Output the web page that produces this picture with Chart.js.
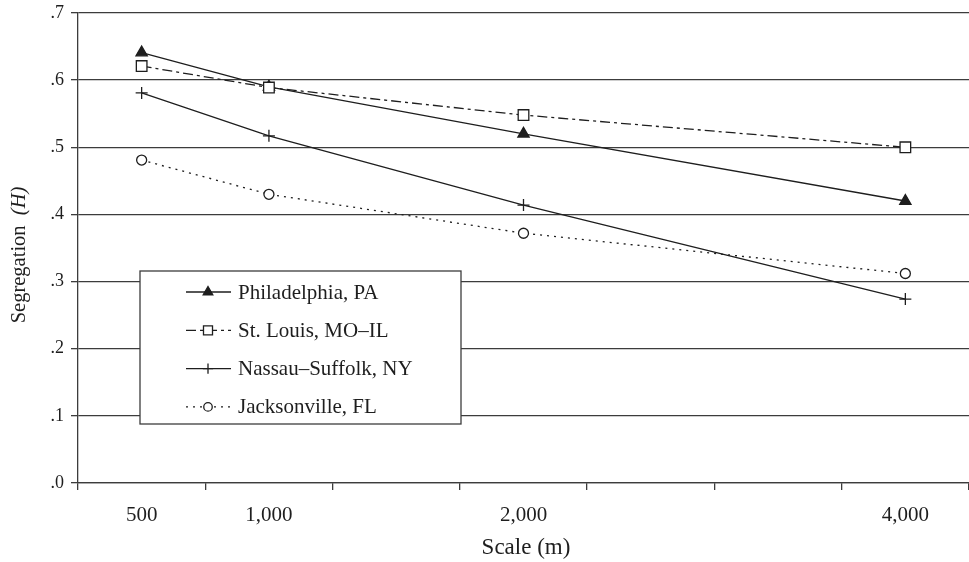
<!DOCTYPE html>
<html><head><meta charset="utf-8">
<script src="https://cdn.jsdelivr.net/npm/chart.js@4/dist/chart.umd.min.js"></script>
<style>html,body{margin:0;padding:0;background:#fff}#wrap{width:969px;height:562px;position:relative}</style>
</head><body><div id="wrap"><canvas id="c"></canvas></div>
<script>
// ---- data ----
const scaleLabels = ['500', '1,000', '', '2,000', '', '', '4,000'];
const seriesNames = ['Philadelphia, PA', 'St. Louis, MO\u2013IL', 'Nassau\u2013Suffolk, NY', 'Jacksonville, FL'];
const philadelphia = [0.641, 0.590, null, 0.520, null, null, 0.420];
const stLouis      = [0.621, 0.589, null, 0.548, null, null, 0.500];
const nassau       = [0.581, 0.517, null, 0.414, null, null, 0.274];
const jacksonville = [0.481, 0.430, null, 0.372, null, null, 0.312];
const xTitle = 'Scale (m)';
const yTitleMain = 'Segregation';
const yTitleItalic = '(H)';

const INK = '#1e1e1e';
const GRID = '#3c3c3c';
const FONT = '"Liberation Serif", "Times New Roman", serif';

const datasets = [
  { label: seriesNames[0], data: philadelphia, borderDash: [], pointStyle: 'triangle',
    pointRadius: 6.5, pointBackgroundColor: INK, order: 1 },
  { label: seriesNames[1], data: stLouis, borderDash: [10, 4, 3, 4], pointStyle: 'rect',
    pointRadius: 7.5, pointBackgroundColor: '#fff', order: 0 },
  { label: seriesNames[2], data: nassau, borderDash: [], pointStyle: 'cross',
    pointRadius: 6, pointBackgroundColor: INK, order: 2 },
  { label: seriesNames[3], data: jacksonville, borderDash: [2, 5], pointStyle: 'circle',
    pointRadius: 5, pointBackgroundColor: '#fff', order: 3 }
].map(d => Object.assign({
  borderColor: INK, borderWidth: 1.3, pointBorderColor: INK, pointBorderWidth: 1.3,
  pointHoverRadius: d.pointRadius, spanGaps: true, tension: 0, fill: false
}, d));

const annot = {
  id: 'annot',
  afterDatasetsDraw(chart) {
    const ctx = chart.ctx, ca = chart.chartArea;
    ctx.save();
    // legend box
    const bx = ca.left + 62, by = ca.top + 258, bw = 321, bh = 153;
    ctx.fillStyle = '#fff';
    ctx.fillRect(bx, by, bw, bh);
    ctx.strokeStyle = GRID; ctx.lineWidth = 1.3;
    ctx.strokeRect(bx, by, bw, bh);
    chart.data.datasets.forEach((ds, i) => {
      const y = by + 21 + i * 38.3;
      ctx.beginPath();
      ctx.setLineDash(ds.borderDash || []);
      ctx.strokeStyle = ds.borderColor; ctx.lineWidth = ds.borderWidth;
      ctx.moveTo(bx + 46, y); ctx.lineTo(bx + 91, y); ctx.stroke();
      ctx.setLineDash([]);
      ctx.fillStyle = ds.pointBackgroundColor; ctx.strokeStyle = ds.pointBorderColor;
      ctx.lineWidth = ds.pointBorderWidth;
      Chart.helpers.drawPoint(ctx, { pointStyle: ds.pointStyle, radius: ds.pointRadius * 0.85,
        borderWidth: ds.pointBorderWidth, rotation: 0 }, bx + 68, y);
      ctx.fillStyle = INK;
      ctx.font = '21px ' + FONT;
      ctx.textAlign = 'left'; ctx.textBaseline = 'middle';
      ctx.fillText(ds.label, bx + 98, y + 1);
    });
    // x title
    ctx.fillStyle = INK;
    ctx.font = '23px ' + FONT;
    ctx.textAlign = 'center'; ctx.textBaseline = 'middle';
    ctx.fillText(xTitle, 526, 548);
    // y title (rotated, italic H)
    ctx.translate(20, 255);
    ctx.rotate(-Math.PI / 2);
    ctx.font = '20.5px ' + FONT;
    const w1 = ctx.measureText(yTitleMain + '  ').width;
    ctx.font = 'italic 20.5px ' + FONT;
    const w2 = ctx.measureText(yTitleItalic).width;
    const start = -(w1 + w2) / 2;
    ctx.textAlign = 'left';
    ctx.font = '20.5px ' + FONT;
    ctx.fillText(yTitleMain, start, 0);
    ctx.font = 'italic 20.5px ' + FONT;
    ctx.fillText(yTitleItalic, start + w1, 0);
    ctx.restore();
  }
};

function zeroPad(s) { s.paddingTop = 0; s.paddingBottom = 0; s.paddingLeft = 0; s.paddingRight = 0; }

new Chart(document.getElementById('c'), {
  type: 'line',
  data: { labels: scaleLabels, datasets },
  plugins: [annot],
  options: {
    responsive: true, maintainAspectRatio: false, animation: false,
    layout: { autoPadding: false, padding: { top: 13, right: 0, left: 0, bottom: 0 } },
    plugins: { legend: { display: false }, tooltip: { enabled: false } },
    scales: {
      x: {
        type: 'category', offset: true,
        grid: { offset: true, drawOnChartArea: false, drawTicks: true, tickLength: 7, color: GRID, lineWidth: 1.3 },
        border: { display: true, color: GRID, width: 1.3 },
        ticks: { color: INK, font: { family: FONT, size: 21 }, padding: 13, autoSkip: false, maxRotation: 0 },
        afterFit(s) { s.height = 79; zeroPad(s); }
      },
      y: {
        min: 0, max: 0.7,
        grid: { color: GRID, lineWidth: 1.3, tickLength: 7, drawTicks: true },
        border: { display: true, color: GRID, width: 1.3 },
        ticks: { stepSize: 0.1, color: INK, font: { family: FONT, size: 18 }, padding: 7,
          callback: v => '.' + Math.round(v * 10) },
        afterFit(s) { s.width = 78; zeroPad(s); }
      }
    }
  }
});
</script>
</body></html>
